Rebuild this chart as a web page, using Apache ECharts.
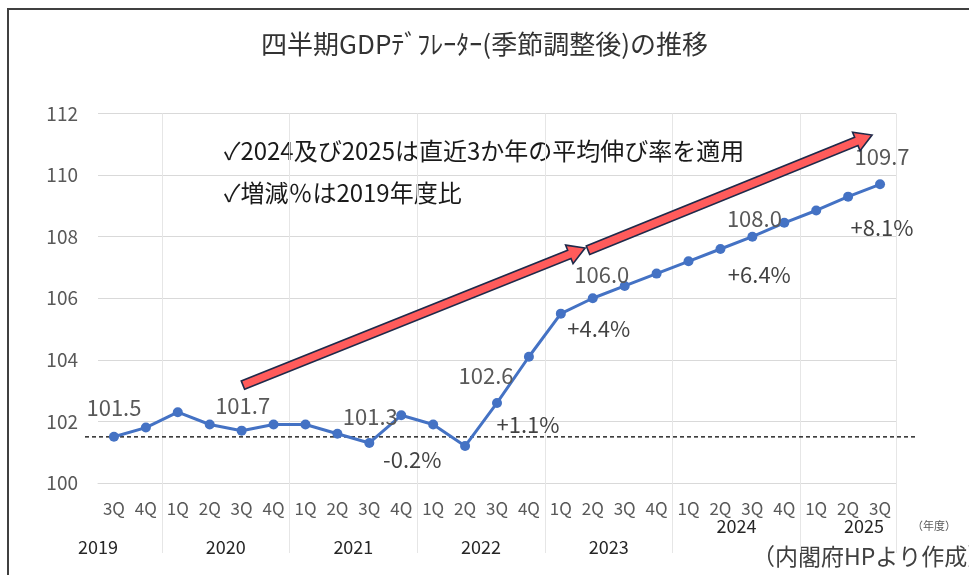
<!DOCTYPE html>
<html><head><meta charset="utf-8">
<script src="https://cdn.jsdelivr.net/npm/echarts@6/dist/echarts.min.js"></script>
<style>html,body{margin:0;padding:0;background:#fff}#c{width:969px;height:575px}</style>
</head><body><div id="c"></div>
<script>
const FONT = '"Noto Sans CJK JP", "Noto Sans", sans-serif';
const quarters = ['3Q','4Q','1Q','2Q','3Q','4Q','1Q','2Q','3Q','4Q','1Q','2Q','3Q','4Q','1Q','2Q','3Q','4Q','1Q','2Q','3Q','4Q','1Q','2Q','3Q'];
const deflator = [101.5,101.8,102.3,101.9,101.7,101.9,101.9,101.6,101.3,102.2,101.9,101.2,102.6,104.1,105.5,106.0,106.4,106.8,107.2,107.6,108.0,108.45,108.85,109.3,109.7];
const yearLabels = ['2019','2020','2021','2022','2023','2024','2025'];
const yearCenters = [-0.5,3.5,7.5,11.5,15.5,19.5,23.5];
const yearRaised = ['2024','2025'];
const yTicks = [100,102,104,106,108,110,112];
const baseValue = 101.5;
// value labels: [index, text]
const valueLabels = [[0,'101.5'],[4,'101.7'],[8,'101.3'],[12,'102.6'],[15,'106.0'],[20,'108.0'],[24,'109.7']];
const pctLabels = [[8,'-0.2%'],[12,'+1.1%'],[14,'+4.4%'],[20,'+6.4%'],[24,'+8.1%']];
// arrow annotations in data units [x(index), value]
const arrow1 = [[4.04,103.18],[14.76,107.63]];
const arrow2 = [[14.85,107.56],[23.75,111.3]];
const notes = ['✓2024及び2025は直近3か年の平均伸び率を適用','✓増減％は2019年度比'];

// label layout (style only)
const valueOffsets = {0:[0,-29],4:[1,-25],8:[1,-26],12:[-11,-27],15:[9,-24],20:[2,-18],24:[2,-28]};
const pctOffsets = {8:[43,17],12:[31,22],14:[38,15],20:[7,38],24:[2,43]};

const valMap = Object.fromEntries(valueLabels);
const pctMap = Object.fromEntries(pctLabels);

const lineData = deflator.map((v,i)=>{
  if (valMap[i] === undefined) return v;
  return {value:v,label:{show:true,position:'inside',formatter:valMap[i],offset:valueOffsets[i],
    color:'#595959',fontSize:22,fontFamily:FONT}};
});
const pctData = deflator.map((v,i)=>{
  if (pctMap[i] === undefined) return {value:v,label:{show:false}};
  return {value:v,label:{show:true,position:'inside',formatter:pctMap[i],offset:pctOffsets[i],
    color:'#111111',fontSize:22,fontFamily:FONT}};
});

const yearMap = {};
yearLabels.forEach((y,i)=>{yearMap[yearCenters[i].toFixed(1)] = y;});

const chart = echarts.init(document.getElementById('c'));
chart.setOption({
  backgroundColor:'#fff',
  animation:false,
  title:{text:'四半期GDPﾃﾞﾌﾚｰﾀｰ(季節調整後)の推移',left:'center',top:26,
    textStyle:{fontSize:26,fontWeight:'normal',color:'#333333',fontFamily:FONT}},
  grid:{left:98,right:73,top:113.5,bottom:92,containLabel:false},
  xAxis:[{
    type:'category',data:quarters,boundaryGap:true,
    axisLine:{show:true,lineStyle:{color:'#d9d9d9',width:1}},
    axisTick:{show:true,length:70,interval:(i)=>i%4===2,lineStyle:{color:'#e6e6e6'}},
    splitLine:{show:true,interval:(i)=>i%4===2,lineStyle:{color:'#e6e6e6'}},
    axisLabel:{interval:0,margin:17,color:'#595959',fontSize:17,fontFamily:FONT}
  },{
    type:'value',position:'bottom',min:-0.5,max:24.5,interval:0.5,
    axisLine:{show:false},axisTick:{show:false},splitLine:{show:false},
    axisLabel:{margin:34,showMinLabel:true,showMaxLabel:true,hideOverlap:false,
      formatter:(v)=>{const t=yearMap[Number(v).toFixed(1)]; if(!t) return ''; return yearRaised.includes(t)?'{hi|'+t+'}':'{lo|'+t+'}';},
      rich:{hi:{color:'#262626',fontSize:18,fontFamily:FONT},lo:{color:'#262626',fontSize:18,fontFamily:FONT,padding:[21,0,0,0]}}}
  }],
  yAxis:{type:'value',min:yTicks[0],max:yTicks[yTicks.length-1],interval:2,
    axisLine:{show:false},axisTick:{show:false},
    splitLine:{lineStyle:{color:'#d9d9d9'}},
    axisLabel:{margin:20,color:'#595959',fontSize:19,fontFamily:FONT}},
  series:[{
    type:'line',data:lineData,xAxisIndex:0,
    symbol:'circle',symbolSize:10,
    lineStyle:{color:'#4472C4',width:3},itemStyle:{color:'#4472C4'},z:3
  },{
    type:'scatter',data:pctData,xAxisIndex:0,symbol:'circle',symbolSize:1,
    itemStyle:{color:'rgba(0,0,0,0)'},emphasis:{disabled:true},silent:true,z:4
  }],
  graphic:[
    {id:'border',type:'rect',shape:{x:8,y:9,width:1000,height:620},style:{fill:'none',stroke:'#404040',lineWidth:2},silent:true},
    {id:'note1',type:'text',left:224,top:139,style:{text:notes[0],fontSize:24,fill:'#1a1a1a',fontFamily:FONT}},
    {id:'note2',type:'text',left:224,top:181,style:{text:notes[1],fontSize:24,fill:'#1a1a1a',fontFamily:FONT}},
    {id:'unit',type:'text',left:912,top:520,style:{text:'（年度）',fontSize:11,fill:'#595959',fontFamily:FONT}},
    {id:'src',type:'text',left:752,top:545,style:{text:'（内閣府HPより作成）',fontSize:23,fill:'#404040',fontFamily:FONT}}
  ]
});

function px(p){
  return [chart.convertToPixel({xAxisIndex:1},p[0]), chart.convertToPixel({yAxisIndex:0},p[1])];
}
function arrowPts(a,b,sw,hw,hl){
  const dx=b[0]-a[0], dy=b[1]-a[1], L=Math.hypot(dx,dy);
  const ux=dx/L, uy=dy/L, nx=-uy, ny=ux;
  const bx=b[0]-ux*hl, by=b[1]-uy*hl;
  return [
    [a[0]+nx*sw/2,a[1]+ny*sw/2],[bx+nx*sw/2,by+ny*sw/2],[bx+nx*hw/2,by+ny*hw/2],b,
    [bx-nx*hw/2,by-ny*hw/2],[bx-nx*sw/2,by-ny*sw/2],[a[0]-nx*sw/2,a[1]-ny*sw/2]
  ];
}
const a1=[px(arrow1[0]),px(arrow1[1])], a2=[px(arrow2[0]),px(arrow2[1])];
const baseY = chart.convertToPixel({yAxisIndex:0}, baseValue);
chart.setOption({graphic:[
  {id:'arr1',type:'polygon',shape:{points:arrowPts(a1[0],a1[1],9,20,17)},style:{fill:'#FF5B5B',stroke:'#1f2a4a',lineWidth:1.6},z:10},
  {id:'arr2',type:'polygon',shape:{points:arrowPts(a2[0],a2[1],9,20,17)},style:{fill:'#FF5B5B',stroke:'#1f2a4a',lineWidth:1.6},z:10},
  {id:'base',type:'line',shape:{x1:85,y1:baseY,x2:915,y2:baseY},style:{stroke:'#000',lineWidth:1.2,lineDash:[4,3]},z:2}
]});
</script></body></html>
